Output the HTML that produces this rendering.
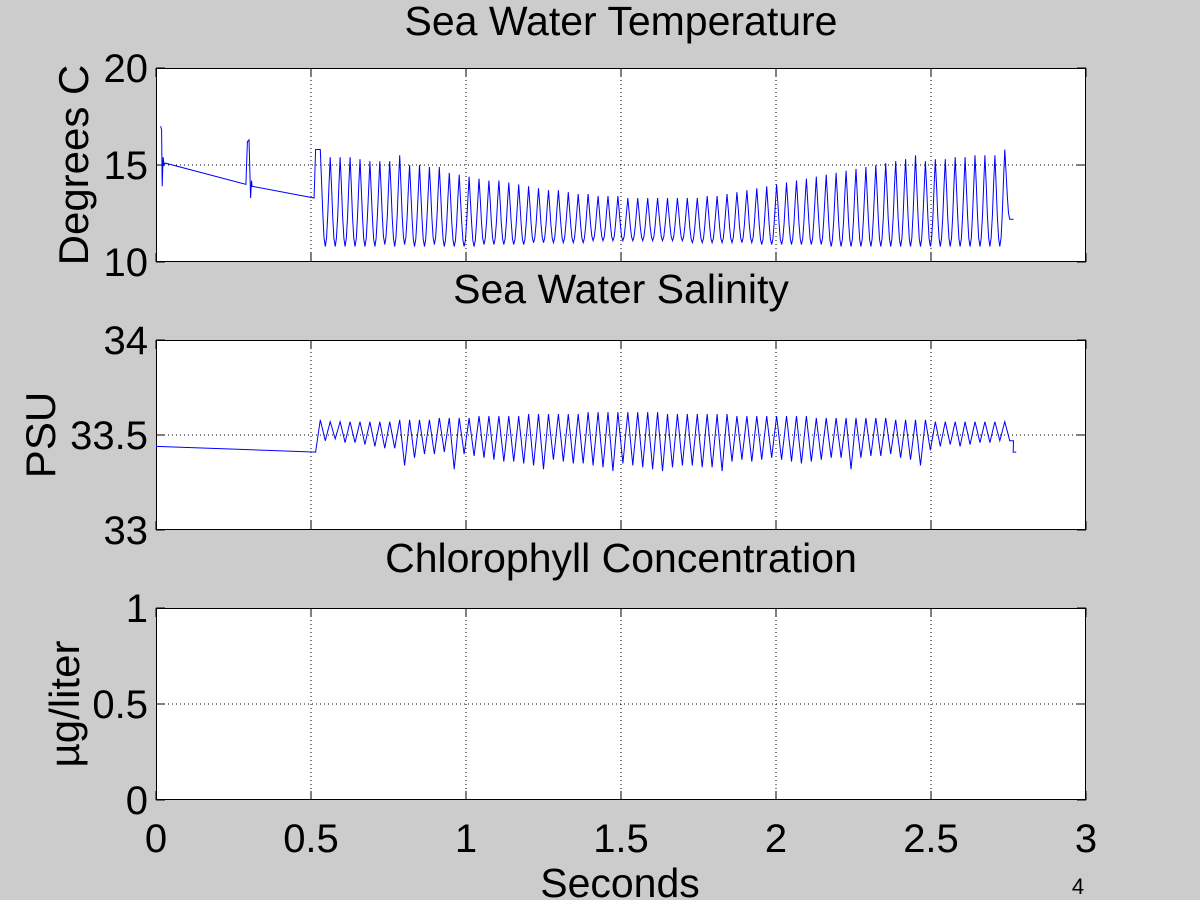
<!DOCTYPE html>
<html><head><meta charset="utf-8"><style>
html,body{margin:0;padding:0;background:#cccccc;}
svg{display:block;font-family:"Liberation Sans",sans-serif;}
</style></head><body>
<svg id="fig" width="1200" height="900" viewBox="0 0 1200 900" xmlns="http://www.w3.org/2000/svg"></svg>
<script>
// ---- data ----
const xTicks = [0, 0.5, 1, 1.5, 2, 2.5, 3];
const xTickLabels = ["0", "0.5", "1", "1.5", "2", "2.5", "3"];
const tempTicks = [10, 15, 20];
const salTicks = [33, 33.5, 34];
const salTickLabels = ["33", "33.5", "34"];
const chlTicks = [0, 0.5, 1];
const chlTickLabels = ["0", "0.5", "1"];
const cycleStart = 0.53;
const cyclePeriod = 0.032;
const tempPreT = [0.015,0.018,0.02,0.023,0.026,0.03,0.29,0.295,0.3,0.305,0.308,0.31,0.51,0.515];
const tempPreV = [17.0,16.8,13.9,15.4,15.0,15.1,14.0,16.2,16.3,13.3,14.2,13.9,13.3,15.8];
const tempPeaks = [15.8,15.4,15.4,15.4,15.3,15.2,15.2,15.2,15.5,
 15.0,15.0,14.9,14.9,
 14.6,14.5,14.4,14.3,14.2,14.2,14.1,14.0,13.9,13.8,13.7,13.7,13.6,13.5,13.5,13.4,
 13.4,13.4,13.3,13.3,13.3,13.3,13.3,13.3,13.3,13.3,13.4,13.4,13.5,13.6,13.7,13.8,
 13.9,14.0,14.1,14.2,14.3,14.4,14.5,14.6,14.7,14.8,14.9,15.0,15.1,15.2,15.3,15.5,
 15.2,15.3,15.3,15.4,15.4,15.5,15.5,15.5,15.8];
const tempTroughs = [10.8,10.8,10.8,10.8,10.8,10.8,10.9,10.8,10.9,
 10.8,10.8,10.9,10.8,
 10.8,10.8,10.8,10.9,10.9,10.9,10.9,10.9,11.0,11.0,11.0,11.0,11.0,11.0,11.1,11.1,
 11.1,11.1,11.1,11.1,11.1,11.1,11.1,11.1,11.0,11.0,11.0,11.0,11.0,11.0,11.0,10.9,
 10.9,10.9,10.9,10.9,10.9,10.9,10.8,10.8,10.8,10.8,10.8,10.8,10.8,10.8,10.8,10.8,
 10.8,10.8,10.8,10.8,10.8,10.8,10.8,10.8,12.2];
const salPreT = [0.0, 0.515];
const salPreV = [33.44, 33.41];
const salPeaks = [33.58,33.57,33.57,33.57,33.57,33.57,33.57,33.57,33.58,
 33.58,33.58,33.58,33.59,33.59,33.59,33.59,33.60,33.60,33.60,33.60,33.60,33.61,33.61,33.61,33.61,33.61,33.61,33.62,33.62,
 33.62,33.62,33.62,33.62,33.62,33.62,33.61,33.61,33.61,33.61,33.61,33.61,33.61,33.60,33.60,33.60,
 33.60,33.60,33.60,33.60,33.60,33.59,33.59,33.59,33.59,33.59,33.59,33.59,33.59,33.58,33.58,33.58,
 33.58,33.57,33.57,33.57,33.57,33.57,33.57,33.57,33.57];
const salTroughs = [33.47,33.48,33.46,33.46,33.45,33.44,33.43,33.43,33.34,
 33.38,33.40,33.40,33.41,33.32,33.40,33.39,33.38,33.37,33.36,33.36,33.35,33.34,33.32,33.37,33.36,33.35,33.35,33.34,33.33,
 33.31,33.35,33.34,33.33,33.32,33.31,33.33,33.34,33.34,33.33,33.33,33.31,33.36,33.37,33.36,33.37,
 33.38,33.37,33.36,33.35,33.36,33.37,33.38,33.38,33.32,33.38,33.39,33.39,33.40,33.38,33.37,33.34,
 33.42,33.44,33.45,33.44,33.45,33.46,33.46,33.47,33.47];
const salEndT = [2.765, 2.775];
const salEndV = [33.41, 33.41];

// ---- layout ----
const NS = "http://www.w3.org/2000/svg";
const svg = document.getElementById('fig');
const X0 = 156, X1 = 1086;
const xs = t => X0 + (t - 0) / 3 * (X1 - X0);
function mk(tag, attrs, parent) {
  const e = document.createElementNS(NS, tag);
  for (const k in attrs) e.setAttribute(k, attrs[k]);
  (parent || svg).appendChild(e);
  return e;
}
const panels = [
  {name:'temperature', top:68, bot:262, lo:10, hi:20, ticks:tempTicks, labels:tempTicks.map(String), title:'Sea Water Temperature', ylab:'Degrees C', titleY:35, ylabX:88},
  {name:'salinity', top:340, bot:530, lo:33, hi:34, ticks:salTicks, labels:salTickLabels, title:'Sea Water Salinity', ylab:'PSU', titleY:303, ylabX:55},
  {name:'chlorophyll', top:608, bot:800, lo:0, hi:1, ticks:chlTicks, labels:chlTickLabels, title:'Chlorophyll Concentration', ylab:'µg/liter', titleY:572, ylabX:79}
];
panels.forEach((p) => {
  const ys = v => p.bot - (v - p.lo) / (p.hi - p.lo) * (p.bot - p.top);
  p.ys = ys;
  const g = mk('g', {});
  
  
  const bg = mk('rect', {x:X0, y:p.top, width:X1-X0, height:p.bot-p.top, fill:'#fff'}, g);
  
  
  xTicks.forEach(t => {
    if (t > 0 && t < 3) {
      const l = mk('line', {x1:xs(t), x2:xs(t), y1:p.top, y2:p.bot, stroke:'#000', 'stroke-width':1, 'stroke-dasharray':'1,3'}, g);
      
      
    }
    mk('line', {x1:xs(t), x2:xs(t), y1:p.bot, y2:p.bot-9, stroke:'#000'}, g);
    mk('line', {x1:xs(t), x2:xs(t), y1:p.top, y2:p.top+9, stroke:'#000'}, g);
  });
  p.ticks.forEach((v, i) => {
    if (v > p.lo && v < p.hi) {
      const l = mk('line', {x1:X0, x2:X1, y1:ys(v), y2:ys(v), stroke:'#000', 'stroke-width':1, 'stroke-dasharray':'1,3'}, g);
      
      
    }
    mk('line', {x1:X0, x2:X0+9, y1:ys(v), y2:ys(v), stroke:'#000'}, g);
    mk('line', {x1:X1, x2:X1-9, y1:ys(v), y2:ys(v), stroke:'#000'}, g);
    const tx = mk('text', {x:X0-8, y:ys(v)+14, 'text-anchor':'end', 'font-size':40}, g);
    tx.textContent = p.labels[i];
    
    
  });
  const fr = mk('rect', {x:X0+0.5, y:p.top+0.5, width:X1-X0-1, height:p.bot-p.top-1, fill:'none', stroke:'#000', 'stroke-width':1}, g);
  
  
  const tt = mk('text', {x:(X0+X1)/2, y:p.titleY, 'text-anchor':'middle', 'font-size':41}, g);
  tt.textContent = p.title;
  
  
  const cy = (p.top + p.bot) / 2;
  const yl = mk('text', {x:p.ylabX, y:cy, 'text-anchor':'middle', 'font-size':42, transform:`rotate(-90 ${p.ylabX} ${cy})`}, g);
  yl.textContent = p.ylab;
  
  
});
xTicks.forEach((t, i) => {
  const tx = mk('text', {x:xs(t), y:852, 'text-anchor':'middle', 'font-size':40});
  tx.textContent = xTickLabels[i];
  
  
});
const xt = mk('text', {x:620, y:897, 'text-anchor':'middle', 'font-size':41});
xt.textContent = 'Seconds';


const pn = mk('text', {x:1078, y:894, 'text-anchor':'middle', 'font-size':22});
pn.textContent = '4';



function seriesPoints(preT, preV, peaks, troughs, ys, endT, endV, sharp) {
  const pts = [];
  preT.forEach((t, i) => pts.push([xs(t), ys(preV[i])]));
  const N = 8;
  peaks.forEach((pk, i) => {
    const t0 = cycleStart + i * cyclePeriod;
    const tr = troughs[i];
    const nextPk = i + 1 < peaks.length ? peaks[i + 1] : tr;
    for (let k = 0; k < N; k++) {
      const f = k / N;
      let v;
      if (sharp) {
        v = f < 0.5 ? pk + (tr - pk) * (f / 0.5) : tr + (nextPk - tr) * ((f - 0.5) / 0.5);
      } else {
        const c = (1 - Math.cos(2 * Math.PI * f)) / 2;
        const ref = f < 0.5 ? pk : nextPk;
        v = ref + (tr - ref) * Math.pow(c, 0.6);
      }
      pts.push([xs(t0 + f * cyclePeriod), ys(v)]);
    }
  });
  if (endT) endT.forEach((t, i) => pts.push([xs(t), ys(endV[i])]));
  return pts.map(p => p[0].toFixed(1) + ',' + p[1].toFixed(1)).join(' ');
}
const tl = mk('polyline', {points:seriesPoints(tempPreT, tempPreV, tempPeaks, tempTroughs, panels[0].ys, null, null, false), fill:'none', stroke:'#0000ff', 'stroke-width':1});


const sl = mk('polyline', {points:seriesPoints(salPreT, salPreV, salPeaks, salTroughs, panels[1].ys, salEndT, salEndV, true), fill:'none', stroke:'#0000ff', 'stroke-width':1});


</script>
</body></html>
